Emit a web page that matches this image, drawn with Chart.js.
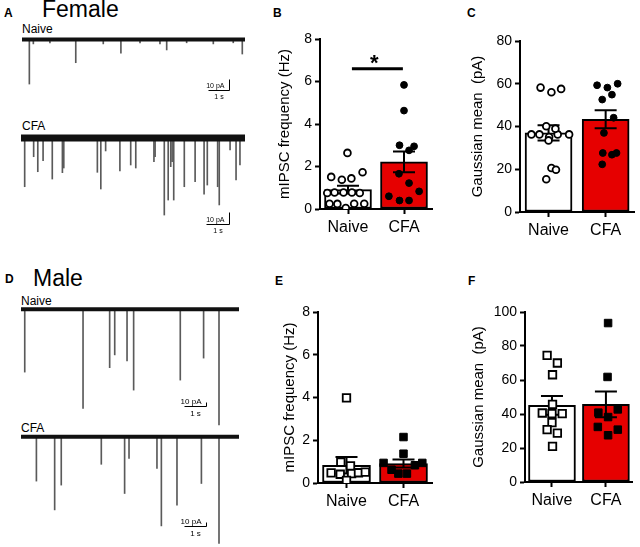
<!DOCTYPE html>
<html>
<head>
<meta charset="utf-8">
<script src="https://cdn.jsdelivr.net/npm/chart.js@4.4.1/dist/chart.umd.min.js"></script>
<style>
  body { margin: 0; background: #fff; }
  #fig { position: relative; width: 640px; height: 547px; overflow: hidden;
         font-family: "Liberation Sans", Arial, sans-serif; color: #000; }
  #fig canvas { position: absolute; }
  .t { position: absolute; line-height: 1; white-space: nowrap; }
  .lt { font-weight: bold; font-size: 12px; }
  .hd { font-size: 23px; }
  .tr { font-size: 12px; }
</style>
</head>
<body>
<div id="fig">
  <div class="t lt" style="left:4px;top:7px">A</div>
  <div class="t hd" style="left:42px;top:-2px">Female</div>
  <div class="t tr" style="left:22px;top:23px">Naive</div>
  <div class="t tr" style="left:22px;top:120px">CFA</div>
  <div class="t lt" style="left:273px;top:7px">B</div>
  <div class="t lt" style="left:467px;top:7px">C</div>

  <div class="t lt" style="left:5px;top:273px">D</div>
  <div class="t hd" style="left:33px;top:267px">Male</div>
  <div class="t tr" style="left:21px;top:295px">Naive</div>
  <div class="t tr" style="left:21px;top:422px">CFA</div>
  <div class="t lt" style="left:275px;top:275px">E</div>
  <div class="t lt" style="left:468px;top:275px">F</div>

  <canvas id="trFN"></canvas>
  <canvas id="trFC"></canvas>
  <canvas id="trMN"></canvas>
  <canvas id="trMC"></canvas>
  <canvas id="pB"></canvas>
  <canvas id="pC"></canvas>
  <canvas id="pE"></canvas>
  <canvas id="pF"></canvas>
</div>
<script>
Chart.defaults.font.family = '"Liberation Sans", Arial, sans-serif';
Chart.defaults.color = '#000';

const RED = '#e60000';
const groups = ['Naive', 'CFA'];

// ---- example traces: event time (s) and amplitude (pA) ----
const femNaiveT = [0.35, 2.56, 4.71, 6.89, 10.49, 0.54, 1.33, 3.87, 5.62, 6.57, 7.84, 9.11, 10.06];
const femNaiveA = [40.5, 21.1, 12.5, 9.5, 13.2, 4, 3, 4, 3, 4, 3, 4, 3];
const femCfaT = [0.16, 0.55, 0.73, 0.96, 1.36, 1.80, 1.86, 3.32, 3.47, 3.68, 4.30, 4.77, 4.99, 5.78, 5.83,
                 6.23, 6.40, 6.51, 6.57, 6.64, 7.10, 7.57, 7.96, 8.10, 8.55, 8.62, 9.09, 9.35, 9.52];
const femCfaA = [40.6, 15.6, 28.1, 18.9, 34.2, 28.9, 25, 28.6, 42.5, 10.8, 27.5, 22.5, 25, 19.8, 15.6,
                 64.2, 51.7, 23.9, 19.8, 51.7, 40.6, 36.4, 46.9, 39.2, 40.6, 55.8, 10, 35, 22.5];
const maleNaiveT = [0.17, 2.82, 4.03, 4.26, 4.82, 5.12, 7.24, 8.30, 9.0];
const maleNaiveA = [157, 248, 146, 114, 129, 202, 177, 122, 289];
const maleCfaT = [0.70, 1.53, 1.83, 3.65, 4.71, 4.91, 6.18, 6.38, 7.09, 8.2, 9.0];
const maleCfaA = [111, 183, 121, 69, 142, 54, 79, 223, 171, 117, 267];

// ---- B: female mIPSC frequency (Hz) ----
const femFreqNaive  = [2.64, 1.51, 1.38, 1.44, 1.73, 0.75, 0.78, 0.78, 0.78, 0.75, 0.25, 0.24, 0.05, 0.25, 0.25];
const femFreqNaiveX = [-0.01, -0.30, -0.11, 0.06, 0.26, -0.37, -0.24, -0.08, 0.07, 0.21, -0.33, -0.19, -0.04, 0.11, 0.29];
const femFreqCfa    = [5.84, 4.63, 3.0, 2.95, 2.76, 1.66, 1.22, 0.83, 0.6, 0.4, 0.4];
const femFreqCfaX   = [0, 0, -0.08, 0.18, 0.09, -0.09, 0.09, 0.27, -0.27, -0.08, 0.09];
const femFreqMean = [0.91, 2.22];
const femFreqSem  = [0.18, 0.49];

// ---- C: female Gaussian mean (pA) ----
const femAmpNaive  = [58.2, 56.0, 57.6, 36.3, 36.3, 35.1, 36.3, 36.3, 40.1, 39.0, 33.5, 15.3, 20.6, 19.8];
const femAmpNaiveX = [-0.14, 0.05, 0.22, -0.30, -0.16, 0.01, 0.16, 0.36, -0.04, 0.12, 0.0, -0.04, 0.05, 0.13];
const femAmpCfa    = [59.3, 58.2, 60.0, 54.9, 52.6, 44.1, 37.0, 27.6, 27.6, 26.8, 22.3];
const femAmpCfaX   = [-0.15, 0.03, 0.21, 0.11, -0.06, 0.14, -0.03, -0.05, 0.19, 0.11, -0.06];
const femAmpMean = [37.0, 43.4];
const femAmpSem  = [3.6, 4.2];

// ---- E: male mIPSC frequency (Hz) ----
const maleFreqNaive  = [3.98, 0.98, 0.80, 0.47, 0.41, 0.44, 0.48, 0.51, 0.12];
const maleFreqNaiveX = [0, -0.10, 0.07, -0.27, -0.11, 0.09, 0.21, 0.33, 0];
const maleFreqCfa    = [2.15, 1.37, 0.94, 0.94, 0.83, 0.62, 0.44, 0.44];
const maleFreqCfaX   = [0, 0, -0.35, 0.33, 0.2, -0.21, -0.09, 0.06];
const maleFreqMean = [0.83, 0.91];
const maleFreqSem  = [0.39, 0.19];

// ---- F: male Gaussian mean (pA) ----
const maleAmpNaive  = [74.5, 70.0, 63.1, 45.7, 40.6, 40.2, 40.2, 34.9, 30.8, 28.8, 21.0];
const maleAmpNaiveX = [-0.09, 0.10, 0.01, 0.01, -0.18, 0, 0.19, 0, -0.09, 0.10, 0.01];
const maleAmpCfa    = [93.5, 61.8, 40.8, 42.7, 38.2, 32.4, 30.8, 27.5];
const maleAmpCfaX   = [0.04, 0.03, -0.14, 0.22, 0.04, -0.15, 0.22, 0.04];
const maleAmpMean = [45.1, 45.7];
const maleAmpSem  = [5.5, 7.6];

function place(id, box) {
  const cv = document.getElementById(id);
  cv.width = box.w; cv.height = box.h;
  cv.style.left = box.x + 'px'; cv.style.top = box.y + 'px';
  cv.style.width = box.w + 'px'; cv.style.height = box.h + 'px';
  return cv;
}

const scaleBar = {
  id: 'scaleBar',
  afterDraw(chart, args, o) {
    const { ctx, scales: { x, y } } = chart;
    const x1 = Math.round(x.getPixelForValue(o.t)) + 0.5;
    const x0 = Math.round(x.getPixelForValue(o.t - 1)) + 0.5;
    const yT = Math.round(y.getPixelForValue(o.v)) + 0.5;
    const yB = Math.round(y.getPixelForValue(o.v - 10)) + 0.5;
    ctx.save();
    ctx.strokeStyle = '#000';
    ctx.lineWidth = 1;
    ctx.beginPath();
    ctx.moveTo(x1, yT); ctx.lineTo(x1, yB); ctx.lineTo(x0, yB);
    ctx.stroke();
    ctx.fillStyle = '#000';
    ctx.font = o.size + 'px "Liberation Sans", Arial, sans-serif';
    ctx.textAlign = 'right';
    ctx.textBaseline = 'alphabetic';
    ctx.fillText('10 pA', x1 - 5, yB - 3);
    ctx.textAlign = 'center';
    ctx.textBaseline = 'top';
    ctx.fillText('1 s', (x0 + x1) / 2, yB + 3);
    ctx.restore();
  }
};

function trace(id, box, base, pxS, pxA, times, amps, band, bar) {
  const cv = place(id, box);
  const dur = box.w / pxS;
  const yMax = (base - box.y) / pxA;
  const yMin = -(box.y + box.h - base) / pxA;
  new Chart(cv, {
    type: 'bar',
    data: {
      datasets: [
        { type: 'line', data: [{ x: 0, y: 0 }, { x: dur, y: 0 }], borderColor: '#111',
          borderWidth: band, pointRadius: 0, order: 1 },
        { data: times.map((t, i) => ({ x: t, y: [0, -amps[i]] })), backgroundColor: '#5a5a5a',
          barThickness: 1, order: 2 }
      ]
    },
    options: {
      responsive: false, animation: false, events: [],
      layout: { padding: 0 },
      plugins: { legend: { display: false }, tooltip: { enabled: false }, scaleBar: bar },
      scales: {
        x: { type: 'linear', display: false, min: 0, max: dur, offset: false },
        y: { display: false, min: yMin, max: yMax }
      }
    },
    plugins: [scaleBar]
  });
}

const errBars = {
  id: 'errBars',
  afterDatasetDraw(chart, args, o) {
    if (args.index !== 0) return;
    const { ctx, scales: { x, y } } = chart;
    ctx.save();
    ctx.strokeStyle = '#000';
    ctx.lineWidth = 2;
    o.mean.forEach((m, i) => {
      const cx = x.getPixelForValue(i + 1);
      const hi = y.getPixelForValue(m + o.sem[i]);
      const lo = y.getPixelForValue(m - o.sem[i]);
      ctx.beginPath();
      ctx.moveTo(cx, lo); ctx.lineTo(cx, hi);
      ctx.moveTo(cx - o.cap, hi); ctx.lineTo(cx + o.cap, hi);
      ctx.moveTo(cx - o.cap, lo); ctx.lineTo(cx + o.cap, lo);
      ctx.stroke();
    });
    ctx.restore();
  }
};

const sigLine = {
  id: 'sigLine',
  afterDraw(chart, args, o) {
    if (!o || !o.text) return;
    const { ctx, scales: { x, y } } = chart;
    const x0 = x.getPixelForValue(o.from), x1 = x.getPixelForValue(o.to);
    const yy = y.getPixelForValue(o.y);
    ctx.save();
    ctx.strokeStyle = '#000';
    ctx.lineWidth = 3;
    ctx.beginPath(); ctx.moveTo(x0, yy); ctx.lineTo(x1, yy); ctx.stroke();
    ctx.fillStyle = '#000';
    ctx.font = 'bold 22px "Liberation Sans", Arial, sans-serif';
    ctx.textAlign = 'center';
    ctx.textBaseline = 'alphabetic';
    ctx.fillText(o.text, (x0 + x1) / 2 - 3, yy + 1);
    ctx.restore();
  }
};

function barPanel(id, box, area, c) {
  const cv = place(id, box);
  const yW = area.l - box.x, padT = area.t - box.y;
  const padR = box.x + box.w - area.r, xH = box.y + box.h - area.b;
  const pts = (vals, jit, g) => vals.map((v, i) => ({ x: g + jit[i], y: v }));
  const noPad = s => { s.paddingTop = 0; s.paddingBottom = 0; s.paddingLeft = 0; s.paddingRight = 0; };
  new Chart(cv, {
    type: 'bar',
    data: {
      datasets: [
        { data: c.mean.map((m, i) => ({ x: i + 1, y: m })), backgroundColor: ['#fff', RED],
          borderColor: '#000', borderWidth: 2, borderSkipped: false, barThickness: c.bw, order: 3 },
        { type: 'scatter', data: pts(c.naive, c.naiveX, 1), pointStyle: c.shape, pointRadius: c.r,
          backgroundColor: '#fff', borderColor: '#000', borderWidth: 1.8, order: 1 },
        { type: 'scatter', data: pts(c.cfa, c.cfaX, 2), pointStyle: c.shape, pointRadius: c.r,
          backgroundColor: '#000', borderColor: '#000', borderWidth: 1, order: 1 }
      ]
    },
    options: {
      responsive: false, animation: false, events: [],
      layout: { padding: { top: padT, right: padR, left: 0, bottom: 0 } },
      plugins: {
        legend: { display: false }, tooltip: { enabled: false },
        errBars: { mean: c.mean, sem: c.sem, cap: 11 },
        sigLine: c.sig || {}
      },
      scales: {
        x: {
          type: 'linear', min: 0.5, max: 2.5, offset: false,
          afterBuildTicks: s => { s.ticks = [{ value: 1 }, { value: 2 }]; },
          afterFit: s => { s.height = xH; noPad(s); },
          ticks: { callback: v => groups[v - 1], font: { size: 16 }, color: '#000', padding: 4 },
          grid: { offset: false, drawOnChartArea: false, tickLength: 5, tickColor: '#000', tickWidth: 2 },
          border: { display: true, color: '#000', width: 2 }
        },
        y: {
          min: 0, max: c.yMax,
          afterFit: s => { s.width = yW; noPad(s); },
          ticks: { stepSize: c.step, font: { size: 14 }, color: '#000', padding: 3 },
          grid: { drawOnChartArea: false, tickLength: 5, tickColor: '#000', tickWidth: 2 },
          border: { display: true, color: '#000', width: 2 },
          title: { display: true, text: c.title, font: { size: 15 }, color: '#000',
                   padding: { top: c.titleX - 9, bottom: 0 } }
        }
      }
    },
    plugins: [errBars, sigLine]
  });
}

// traces
trace('trFN', { x: 22, y: 28, w: 223, h: 72 }, 39.5, 21, 1.1, femNaiveT, femNaiveA, 4,
      { t: 9.86, v: -35.9, size: 7 });
trace('trFC', { x: 21, y: 118, w: 224, h: 126 }, 138, 23, 1.2, femCfaT, femCfaA, 7,
      { t: 9.04, v: -61.7, size: 7 });
trace('trMN', { x: 21, y: 293, w: 218, h: 137 }, 309.3, 22, 0.4, maleNaiveT, maleNaiveA, 4,
      { t: 8.41, v: -232, size: 8 });
trace('trMC', { x: 21, y: 420, w: 218, h: 127 }, 436.7, 22, 0.4, maleCfaT, maleCfaA, 4,
      { t: 8.41, v: -213, size: 8 });

// bar panels
barPanel('pB', { x: 260, y: 28, w: 180, h: 222 }, { l: 320, t: 39, r: 432, b: 209 }, {
  mean: femFreqMean, sem: femFreqSem, naive: femFreqNaive, naiveX: femFreqNaiveX,
  cfa: femFreqCfa, cfaX: femFreqCfaX, yMax: 8, step: 2, title: 'mIPSC frequency (Hz)',
  titleX: 25, bw: 47, shape: 'circle', r: 3.4,
  sig: { from: 1.07, to: 1.98, y: 6.6, text: '*' }
});
barPanel('pC', { x: 450, y: 28, w: 190, h: 222 }, { l: 520, t: 41, r: 636, b: 212 }, {
  mean: femAmpMean, sem: femAmpSem, naive: femAmpNaive, naiveX: femAmpNaiveX,
  cfa: femAmpCfa, cfaX: femAmpCfaX, yMax: 80, step: 20, title: 'Gaussian mean  (pA)',
  titleX: 28, bw: 47, shape: 'circle', r: 3.4
});
barPanel('pE', { x: 260, y: 295, w: 180, h: 222 }, { l: 318, t: 312, r: 432, b: 483 }, {
  mean: maleFreqMean, sem: maleFreqSem, naive: maleFreqNaive, naiveX: maleFreqNaiveX,
  cfa: maleFreqCfa, cfaX: maleFreqCfaX, yMax: 8, step: 2, title: 'mIPSC frequency (Hz)',
  titleX: 30, bw: 48, shape: 'rect', r: 5.3
});
barPanel('pF', { x: 450, y: 295, w: 190, h: 222 }, { l: 525, t: 312, r: 636, b: 482 }, {
  mean: maleAmpMean, sem: maleAmpSem, naive: maleAmpNaive, naiveX: maleAmpNaiveX,
  cfa: maleAmpCfa, cfaX: maleAmpCfaX, yMax: 100, step: 20, title: 'Gaussian mean  (pA)',
  titleX: 29, bw: 47, shape: 'rect', r: 5.3
});
</script>
</body>
</html>
